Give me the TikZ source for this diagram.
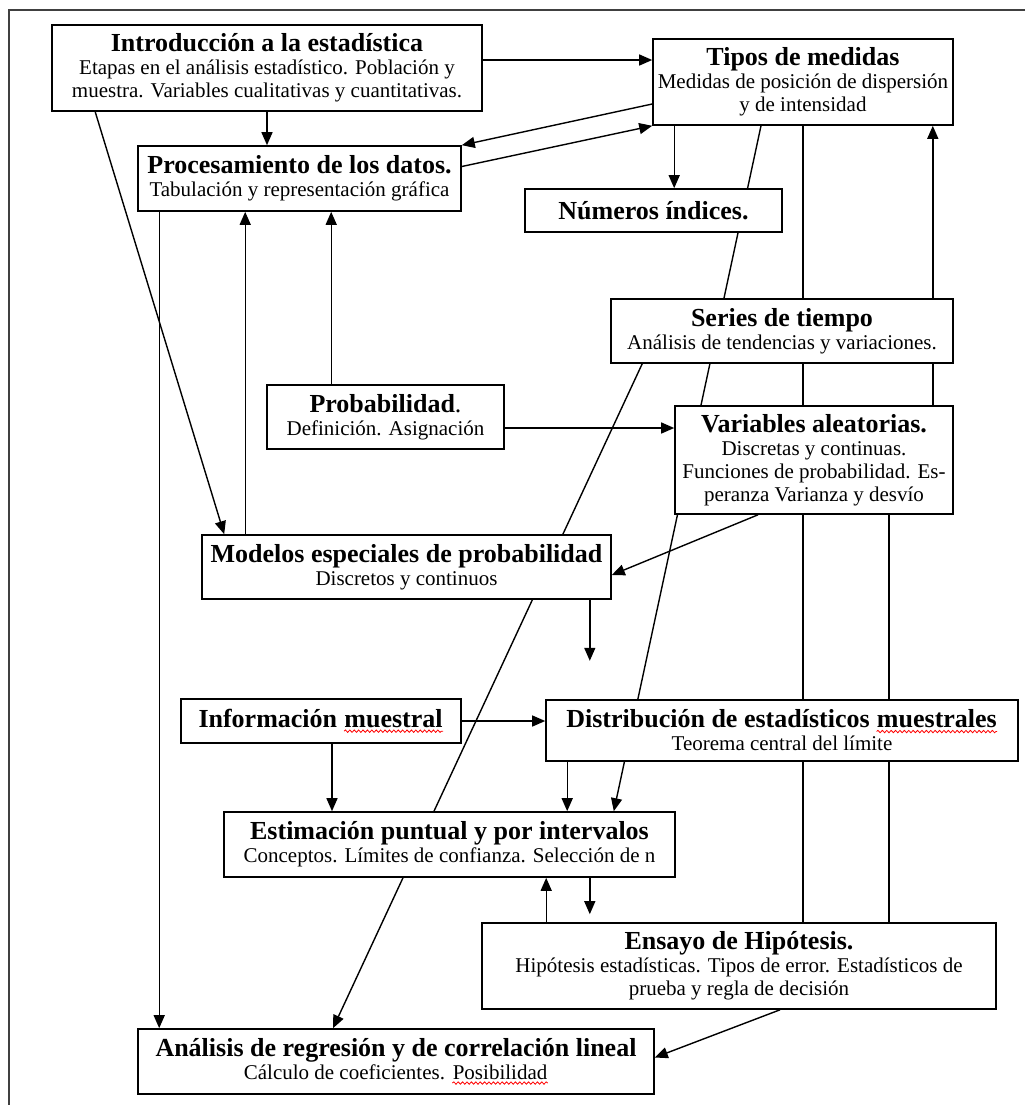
\documentclass[tikz,border=0pt]{standalone}
\usepackage{fontspec}
\setmainfont{Liberation Serif}
\usetikzlibrary{arrows.meta, backgrounds, calc, decorations.pathmorphing}
\tikzstyle{block} = [rectangle, draw=black, fill=white, line width=0.8pt, align=center, inner sep=1.5pt, node font=\fontsize{10.5}{11.5}\selectfont]
\tikzstyle{arrow} = [line width=0.7pt,-{Triangle[length=6.5pt,width=5.5pt]}]
\tikzstyle{link} = [line width=0.7pt]
\tikzstyle{plainword} = [inner sep=0pt, minimum width=0pt, minimum height=0pt, draw=none, fill=none, anchor=base]
\newcommand{\btitle}[1]{{\fontsize{13}{14}\selectfont\bfseries #1}}
\newcommand{\spellmark}[1]{\tikz[baseline=(w.base)]{\node[plainword] (w) {#1}; \draw[red, line width=0.4pt, decorate, decoration={snake, amplitude=0.6pt, segment length=2.2pt}] ([yshift=-1.8pt]w.base west) -- ([yshift=-1.8pt]w.base east);}}

\begin{document}
\begin{tikzpicture}[x=0.5pt,y=-0.5pt]
    \useasboundingbox (0,0) rectangle (1025,1105);
    \node[block, minimum width=215pt, minimum height=43pt] (intro) at (267,68) {\btitle{Introducción a la estadística}\\Etapas en el análisis estadístico. Población y\\muestra. Variables cualitativas y cuantitativas.};
    \node[block, minimum width=150pt, minimum height=43pt] (tipos) at (803,82) {\btitle{Tipos de medidas}\\Medidas de posición de dispersión\\y de intensidad};
    \node[block, minimum width=161.5pt, minimum height=32.5pt] (proc) at (299.5,178.5) {\btitle{Procesamiento de los datos.}\\Tabulación y representación gráfica};
    \node[block, minimum width=128.5pt, minimum height=21.5pt] (numeros) at (653.5,210.5) {\btitle{Números índices.}};
    \node[block, minimum width=171pt, minimum height=32pt] (series) at (782,331) {\btitle{Series de tiempo}\\Análisis de tendencias y variaciones.};
    \node[block, minimum width=118.5pt, minimum height=32pt] (prob) at (385.5,417) {{\fontsize{13}{14}\selectfont\textbf{Probabilidad}.}\\Definición. Asignación};
    \node[block, minimum width=139pt, minimum height=54pt] (varal) at (814,460) {\btitle{Variables aleatorias.}\\Discretas y continuas.\\Funciones de probabilidad. Es-\\peranza Varianza y desvío};
    \node[block, minimum width=204.5pt, minimum height=32pt] (modelos) at (406.5,567) {\btitle{Modelos especiales de probabilidad}\\Discretos y continuos};
    \coordinate (modelosout) at ([xshift=-11pt,yshift=-30.5pt]modelos.south east);
    \node[block, minimum width=140pt, minimum height=22pt] (info) at (321,721) {\btitle{Información \spellmark{muestral}}};
    \node[block, minimum width=236pt, minimum height=30.5pt] (distrib) at (782,730.5) {\btitle{Distribución de estadísticos \spellmark{muestrales}}\\Teorema central del límite};
    \node[block, minimum width=225.5pt, minimum height=32.5pt] (estim) at (449.5,844.5) {\btitle{Estimación puntual y por intervalos}\\Conceptos. Límites de confianza. Selección de n};
    \node[block, minimum width=257pt, minimum height=43pt] (ensayo) at (739,966) {\btitle{Ensayo de Hipótesis.}\\Hipótesis estadísticas. Tipos de error. Estadísticos de\\prueba y regla de decisión};
    \node[block, minimum width=258pt, minimum height=32.5pt] (analisis) at (396,1061.5) {\btitle{Análisis de regresión y de correlación lineal}\\Cálculo de coeficientes. \spellmark{Posibilidad}};

    \begin{scope}[on background layer]
    \draw[link, black!75] (1025,10) -- (9,10) -- (9,1105);
    \draw[arrow] ([yshift=4pt]intro.east) -- ([yshift=4pt]intro.east -| tipos.west);
    \draw[arrow] (intro.south) -- (intro.south |- proc.north);
    \draw[arrow] ([yshift=-11pt]tipos.west) -- (proc.north east);
    \draw[arrow] ([yshift=6pt]proc.east) -- (tipos.south west);
    \draw[arrow] ([xshift=22pt]intro.south west) -- ([xshift=11.5pt]modelos.north west);
    \draw[arrow] ([xshift=11pt]proc.south west) -- ([xshift=11pt]analisis.north west);
    \draw[arrow] ([xshift=22pt]modelos.north west) -- ([xshift=22pt]modelos.north west |- proc.south);
    \draw[arrow] ([xshift=32.5pt]prob.north west) -- ([xshift=32.5pt]prob.north west |- proc.south);
    \draw[arrow] ([yshift=-5.5pt]prob.east) -- ([yshift=-5.5pt]prob.east -| varal.west);
    \draw[arrow] ([xshift=11pt]tipos.south west) -- ([xshift=11pt]tipos.south west |- numeros.north);
    \draw[arrow] ([xshift=-21pt]tipos.south) -- ([xshift=-31pt]estim.north east);
    \draw[arrow] ([xshift=16pt]series.south west) -- ([xshift=-31.5pt]analisis.north);
    \draw[link] (tipos.south) -- (tipos.south |- ensayo.north);
    \draw[arrow] ([xshift=-10.5pt]varal.north east) -- ([xshift=-10.5pt]tipos.south east);
    \draw[link] ([xshift=-32.5pt]varal.south east) -- ([xshift=-32.5pt]varal.south east |- ensayo.north);
    \draw[arrow] ([xshift=-28pt]varal.south) -- ([yshift=-4pt]modelos.east);
    \draw[arrow] ([xshift=-11pt]modelos.south east) -- (modelosout);
    \draw[arrow] (info.east) -- (info.east -| distrib.west);
    \draw[arrow] ([xshift=5.5pt]info.south) -- ([xshift=5.5pt]info.south |- estim.north);
    \draw[arrow] ([xshift=11pt]distrib.south west) -- ([xshift=11pt]distrib.south west |- estim.north);
    \draw[arrow] ([xshift=32.5pt]ensayo.north west) -- ([xshift=32.5pt]ensayo.north west |- estim.south);
    \draw[arrow, shorten >=4pt] ([xshift=-43pt]estim.south east) -- ([xshift=-43pt]estim.south east |- ensayo.north);
    \draw[arrow] ([xshift=20.5pt]ensayo.south) -- ([yshift=2pt]analisis.east);
    \end{scope}
\end{tikzpicture}
\end{document}
